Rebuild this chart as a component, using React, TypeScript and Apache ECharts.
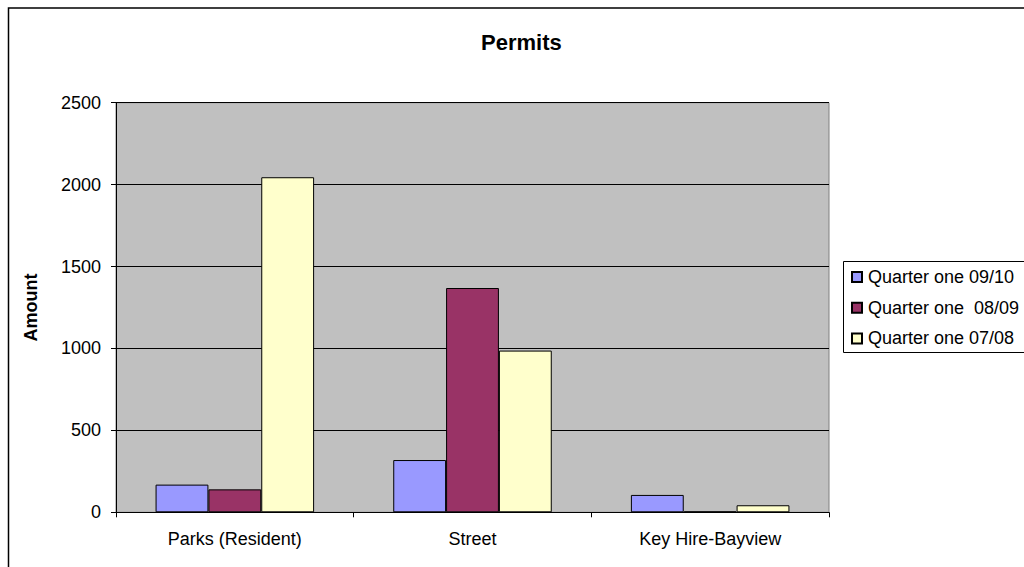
import React, { useEffect, useRef } from "react";
import * as echarts from "echarts";

const categories = ["Parks (Resident)", "Street", "Key Hire-Bayview"];
const seriesNames = ["Quarter one 09/10", "Quarter one  08/09", "Quarter one 07/08"];
const q0910 = [169, 319, 106];
const q0809 = [140, 1369, 5];
const q0708 = [2045, 987, 43];
const colors = ["#9999FF", "#993366", "#FFFFCC"];
const yTicks = [0, 500, 1000, 1500, 2000, 2500];

const FONT = "'Liberation Sans', Arial, sans-serif";

export default function App() {
  const ref = useRef<HTMLDivElement>(null);
  useEffect(() => {
    document.body.style.margin = "0";
    const chart = echarts.init(ref.current!, null, { renderer: "svg" });
    const values = [q0910, q0809, q0708];
    chart.setOption({
      animation: false,
      backgroundColor: "#ffffff",
      textStyle: { fontFamily: FONT },
      title: {
        text: "Permits",
        left: 481,
        top: 31,
        padding: 0,
        textStyle: { fontFamily: FONT, fontSize: 22, fontWeight: "bold", color: "#000" },
      },
      graphic: [
        {
          type: "rect",
          shape: { x: 8.5, y: 8, width: 1100, height: 700 },
          style: { fill: "none", stroke: "#000", lineWidth: 1.5 },
          silent: true,
          z: -1,
        },
        {
          type: "rect",
          shape: { x: 843.5, y: 261.5, width: 220, height: 91 },
          style: { fill: "#fff", stroke: "#000", lineWidth: 1 },
          silent: true,
          z: 0,
        },
      ],
      legend: {
        orient: "vertical",
        left: 843,
        top: 261,
        padding: [7, 8, 6, 8],
        itemGap: 12.7,
        itemWidth: 10,
        itemHeight: 10,
        icon: "rect",
        z: 5,
        textStyle: { fontFamily: FONT, fontSize: 18, lineHeight: 18, color: "#000", padding: [0, 0, 0, 1] },
        data: seriesNames,
      },
      grid: {
        left: 116,
        right: 195,
        top: 102.7,
        bottom: 54.7,
        show: true,
        backgroundColor: "#C0C0C0",
        borderColor: "#808080",
        borderWidth: 1,
        containLabel: false,
      },
      xAxis: {
        type: "category",
        data: categories,
        boundaryGap: true,
        axisLine: { show: true, lineStyle: { color: "#000", width: 1 } },
        axisTick: { show: true, length: 5, alignWithLabel: false, lineStyle: { color: "#000" } },
        axisLabel: { fontFamily: FONT, fontSize: 18, color: "#000", margin: 18 },
        splitLine: { show: false },
      },
      yAxis: {
        type: "value",
        min: yTicks[0],
        max: yTicks[yTicks.length - 1],
        interval: 500,
        name: "Amount",
        nameLocation: "middle",
        nameRotate: 90,
        nameGap: 76,
        nameTextStyle: { fontFamily: FONT, fontSize: 18, fontWeight: "bold", color: "#000" },
        axisLine: { show: true, lineStyle: { color: "#000", width: 1 } },
        axisTick: { show: true, length: 5, lineStyle: { color: "#000" } },
        axisLabel: {
          fontFamily: FONT,
          fontSize: 18,
          color: "#000",
          margin: 15,
          formatter: (v: number) => String(v),
        },
        splitLine: { show: true, lineStyle: { color: "#000", width: 1 } },
      },
      series: seriesNames.map((name, i) => ({
        name,
        type: "bar",
        data: values[i],
        barGap: "0%",
        barCategoryGap: "33.3%",
        itemStyle: { color: colors[i], borderColor: "#000", borderWidth: 1 },
      })),
    });
    return () => chart.dispose();
  }, []);
  return <div ref={ref} style={{ width: 1024, height: 567 }} />;
}
